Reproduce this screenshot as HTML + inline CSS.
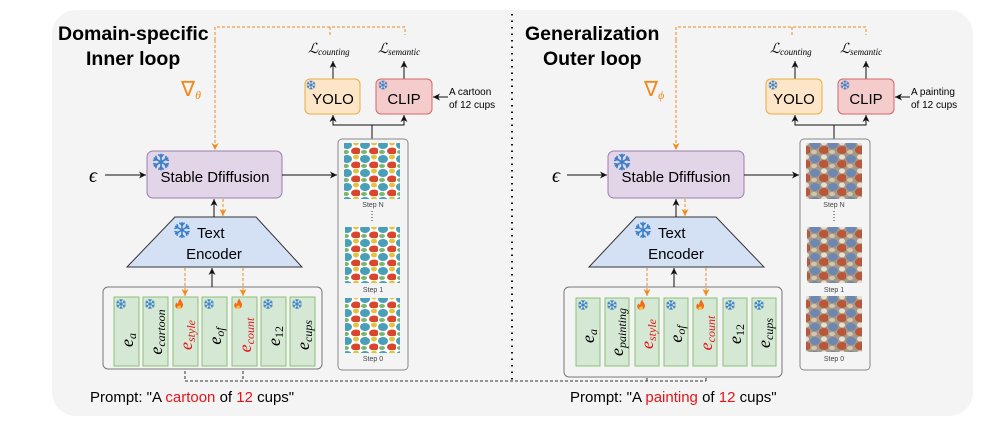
<!DOCTYPE html>
<html><head><meta charset="utf-8"><style>
html,body{margin:0;padding:0;background:#fff;}
svg{display:block;font-family:"Liberation Sans",sans-serif;}
.m{font-family:"Liberation Serif",serif;font-style:italic;}
</style></head><body>
<svg width="996" height="428" viewBox="0 0 996 428" xmlns="http://www.w3.org/2000/svg">
<defs>
<marker id="ab" markerWidth="8" markerHeight="8" refX="7" refY="4" orient="auto" markerUnits="userSpaceOnUse"><path d="M0,0.5 L7,4 L0,7.5 L2,4z" fill="#111"/></marker>
<marker id="ao" markerWidth="8" markerHeight="8" refX="7" refY="4" orient="auto" markerUnits="userSpaceOnUse"><path d="M0,0.5 L7,4 L0,7.5 L2,4z" fill="#f08a1c"/></marker>
<g id="arm"><line x1="0" y1="0" x2="0" y2="-7"/><line x1="0" y1="-4.5" x2="-2" y2="-6.5"/><line x1="0" y1="-4.5" x2="2" y2="-6.5"/></g>
<g id="flake" stroke="#3a7fc8" stroke-width="1.5" stroke-linecap="round" fill="none">
<use href="#arm"/><use href="#arm" transform="rotate(60)"/><use href="#arm" transform="rotate(120)"/><use href="#arm" transform="rotate(180)"/><use href="#arm" transform="rotate(240)"/><use href="#arm" transform="rotate(300)"/>
</g>
<g id="fire"><path d="M0,6 C-5,6 -6,1 -3,-2 C-2,0 -1,0 -1,-1 C-1,-4 1,-6 2,-7 C2,-4 5,-2 5,1 C5,4 3,6 0,6z" fill="#f26b1d"/><path d="M0,6 C-2,6 -3,4 -1,2 C0,3 1,2 1,1 C3,3 3,6 0,6z" fill="#ffc53a"/></g>
<pattern id="cart" width="18" height="14" patternUnits="userSpaceOnUse">
<rect width="18" height="14" fill="#fff"/>
<ellipse cx="5" cy="5" rx="5" ry="4" fill="#4a9fb8"/><ellipse cx="14" cy="11" rx="5" ry="3.5" fill="#d9462f"/><ellipse cx="14" cy="3" rx="3" ry="2.5" fill="#e6c23a"/><ellipse cx="4" cy="12" rx="3" ry="2" fill="#7db56a"/>
</pattern>
<pattern id="paint" width="18" height="14" patternUnits="userSpaceOnUse">
<rect width="18" height="14" fill="#a59a8a"/>
<ellipse cx="5" cy="5" rx="5" ry="4" fill="#6d87b0"/><ellipse cx="14" cy="10" rx="5" ry="4" fill="#b9573a"/><ellipse cx="14" cy="3" rx="3" ry="2.5" fill="#e6e0d2"/><ellipse cx="4" cy="12" rx="3" ry="2" fill="#d8c6a6"/>
</pattern>
</defs>

<rect x="52" y="10" width="921" height="406" rx="24" fill="#f4f4f4"/>
<line x1="512" y1="14" x2="512" y2="380" stroke="#111" stroke-width="2" stroke-dasharray="1.5 5"/>

<polyline points="185,366 185,381 706,381" fill="none" stroke="#333" stroke-width="1" stroke-dasharray="3 2"/>
<line x1="243" y1="366" x2="243" y2="381" stroke="#333" stroke-dasharray="3 2"/>
<line x1="647" y1="381" x2="647" y2="367" stroke="#333" stroke-dasharray="3 2" marker-end="url(#ab)"/>
<line x1="706" y1="381" x2="706" y2="367" stroke="#333" stroke-dasharray="3 2" marker-end="url(#ab)"/>

<!-- ===== LEFT ===== -->
<text x="58" y="40" font-size="19.5" font-weight="bold">Domain-specific</text>
<text x="86" y="65" font-size="19.5" font-weight="bold">Inner loop</text>
<text x="181" y="96" font-size="21" fill="#f08a1c">∇<tspan class="m" font-size="12" dy="3">θ</tspan></text>

<polyline points="215,40 215,27 405,27 405,35" fill="none" stroke="#f08a1c" stroke-dasharray="3 2"/>
<line x1="215" y1="40" x2="215" y2="150" stroke="#f08a1c" stroke-dasharray="3 2" marker-end="url(#ao)"/>
<line x1="330" y1="27" x2="330" y2="35" stroke="#f08a1c" stroke-dasharray="3 2"/>

<text x="308" y="53" class="m" font-size="14">ℒ<tspan font-size="9" dy="2">counting</tspan></text>
<text x="378" y="53" class="m" font-size="14">ℒ<tspan font-size="9" dy="2">semantic</tspan></text>
<line x1="333" y1="79" x2="333" y2="61" stroke="#111" marker-end="url(#ab)"/>
<line x1="404" y1="79" x2="404" y2="61" stroke="#111" marker-end="url(#ab)"/>

<rect x="305" y="79" width="55" height="35" rx="5" fill="#fde6c8" stroke="#e6ad45"/>
<text x="333" y="104" font-size="15" text-anchor="middle">YOLO</text>
<use href="#flake" transform="translate(311,85) scale(0.6)"/>
<rect x="376" y="79" width="56" height="35" rx="5" fill="#f5cccc" stroke="#cf6767"/>
<text x="404" y="104" font-size="15" text-anchor="middle">CLIP</text>
<use href="#flake" transform="translate(383,85) scale(0.6)"/>
<text x="449" y="95" font-size="10">A cartoon</text>
<text x="449" y="108" font-size="10">of 12 cups</text>
<line x1="448" y1="97" x2="433" y2="97" stroke="#111" marker-end="url(#ab)"/>

<polyline points="372,139 372,125 333,125 333,115" fill="none" stroke="#111" marker-end="url(#ab)"/>
<polyline points="372,125 404,125 404,115" fill="none" stroke="#111" marker-end="url(#ab)"/>

<rect x="338" y="139" width="70" height="231" rx="4" fill="#f4f4f4" stroke="#888"/>
<rect x="344" y="143" width="56" height="56" fill="url(#cart)"/>
<text x="373" y="207" font-size="7" fill="#444" text-anchor="middle">Step N</text>
<line x1="372" y1="211" x2="372" y2="223" stroke="#333" stroke-dasharray="1 2"/>
<rect x="345" y="227" width="55" height="56" fill="url(#cart)"/>
<text x="373" y="292" font-size="7" fill="#444" text-anchor="middle">Step 1</text>
<rect x="345" y="298" width="55" height="55" fill="url(#cart)"/>
<text x="373" y="361" font-size="7" fill="#444" text-anchor="middle">Step 0</text>

<rect x="147" y="151" width="135" height="47" rx="6" fill="#e1d5e7" stroke="#9c7bb0"/>
<text x="215" y="182" font-size="15" text-anchor="middle">Stable Dfiffusion</text>
<use href="#flake" transform="translate(161,162) scale(1.1)"/>
<text x="89" y="182" class="m" font-size="20">ϵ</text>
<line x1="105" y1="175" x2="146" y2="175" stroke="#111" marker-end="url(#ab)"/>
<line x1="282" y1="175" x2="337" y2="175" stroke="#111" marker-end="url(#ab)"/>

<polygon points="175,217 256,217 302,267 127,267" fill="#d4e1f5" stroke="#333"/>
<text x="197" y="238" font-size="15">Text</text>
<text x="214" y="259" font-size="15" text-anchor="middle">Encoder</text>
<use href="#flake" transform="translate(182,230) scale(1.05)"/>
<line x1="214" y1="217" x2="214" y2="199" stroke="#111" marker-end="url(#ab)"/>
<line x1="223" y1="199" x2="223" y2="216" stroke="#f08a1c" stroke-dasharray="3 2" marker-end="url(#ao)"/>

<rect x="103" y="287" width="219" height="82" rx="5" fill="#f4f4f4" stroke="#777"/>
<line x1="212" y1="287" x2="212" y2="268" stroke="#111" marker-end="url(#ab)"/>
<line x1="185" y1="268" x2="185" y2="296" stroke="#f08a1c" stroke-dasharray="3 2" marker-end="url(#ao)"/>
<line x1="243" y1="268" x2="243" y2="296" stroke="#f08a1c" stroke-dasharray="3 2" marker-end="url(#ao)"/>
<g fill="#d5e8d4" stroke="#8cbf78">
<rect x="114" y="297" width="25" height="69"/><rect x="143" y="297" width="25" height="69"/><rect x="173" y="297" width="25" height="69"/><rect x="202" y="297" width="25" height="69"/><rect x="232" y="297" width="25" height="69"/><rect x="261" y="297" width="25" height="69"/><rect x="290" y="297" width="25" height="69"/>
</g>
<use href="#flake" transform="translate(121,304) scale(0.65)"/>
<use href="#flake" transform="translate(150,304) scale(0.65)"/>
<use href="#fire" transform="translate(179,304) scale(0.8)"/>
<use href="#flake" transform="translate(209,304) scale(0.65)"/>
<use href="#fire" transform="translate(238,304) scale(0.8)"/>
<use href="#flake" transform="translate(268,304) scale(0.65)"/>
<use href="#flake" transform="translate(297,304) scale(0.65)"/>
<g class="m" font-size="18">
<text transform="translate(133,340) rotate(-90)" text-anchor="middle">e<tspan font-size="12" dy="3">a</tspan></text>
<text transform="translate(162,332) rotate(-90)" text-anchor="middle">e<tspan font-size="12" dy="3">cartoon</tspan></text>
<text transform="translate(192,335) rotate(-90)" text-anchor="middle" fill="#e8141a">e<tspan font-size="12" dy="3">style</tspan></text>
<text transform="translate(221,336) rotate(-90)" text-anchor="middle">e<tspan font-size="12" dy="3">of</tspan></text>
<text transform="translate(251,335) rotate(-90)" text-anchor="middle" fill="#e8141a">e<tspan font-size="12" dy="3">count</tspan></text>
<text transform="translate(280,336) rotate(-90)" text-anchor="middle">e<tspan font-size="12" dy="3" font-style="normal">12</tspan></text>
<text transform="translate(309,335) rotate(-90)" text-anchor="middle">e<tspan font-size="12" dy="3">cups</tspan></text>
</g>
<text x="90" y="402" font-size="15">Prompt: "A <tspan fill="#e8141a">cartoon</tspan> of <tspan fill="#e8141a">12</tspan> cups"</text>

<!-- ===== RIGHT ===== -->
<text x="525" y="40" font-size="19.5" font-weight="bold">Generalization</text>
<text x="543" y="65" font-size="19.5" font-weight="bold">Outer loop</text>
<text x="644" y="96" font-size="21" fill="#f08a1c">∇<tspan class="m" font-size="12" dy="3">ϕ</tspan></text>

<polyline points="676,40 676,27 866,27 866,35" fill="none" stroke="#f08a1c" stroke-dasharray="3 2"/>
<line x1="676" y1="40" x2="676" y2="150" stroke="#f08a1c" stroke-dasharray="3 2" marker-end="url(#ao)"/>
<line x1="792" y1="27" x2="792" y2="35" stroke="#f08a1c" stroke-dasharray="3 2"/>

<text x="770" y="53" class="m" font-size="14">ℒ<tspan font-size="9" dy="2">counting</tspan></text>
<text x="840" y="53" class="m" font-size="14">ℒ<tspan font-size="9" dy="2">semantic</tspan></text>
<line x1="795" y1="79" x2="795" y2="61" stroke="#111" marker-end="url(#ab)"/>
<line x1="866" y1="79" x2="866" y2="61" stroke="#111" marker-end="url(#ab)"/>

<rect x="766" y="79" width="56" height="35" rx="5" fill="#fde6c8" stroke="#e6ad45"/>
<text x="794" y="104" font-size="15" text-anchor="middle">YOLO</text>
<use href="#flake" transform="translate(773,85) scale(0.6)"/>
<rect x="838" y="79" width="56" height="35" rx="5" fill="#f5cccc" stroke="#cf6767"/>
<text x="866" y="104" font-size="15" text-anchor="middle">CLIP</text>
<use href="#flake" transform="translate(845,85) scale(0.6)"/>
<text x="911" y="95" font-size="10">A painting</text>
<text x="911" y="108" font-size="10">of 12 cups</text>
<line x1="910" y1="97" x2="895" y2="97" stroke="#111" marker-end="url(#ab)"/>

<polyline points="834,139 834,125 795,125 795,115" fill="none" stroke="#111" marker-end="url(#ab)"/>
<polyline points="834,125 866,125 866,115" fill="none" stroke="#111" marker-end="url(#ab)"/>

<rect x="800" y="139" width="70" height="231" rx="4" fill="#f4f4f4" stroke="#888"/>
<rect x="806" y="143" width="56" height="56" fill="url(#paint)"/>
<text x="834" y="207" font-size="7" fill="#444" text-anchor="middle">Step N</text>
<line x1="834" y1="211" x2="834" y2="223" stroke="#333" stroke-dasharray="1 2"/>
<rect x="807" y="227" width="55" height="56" fill="url(#paint)"/>
<text x="834" y="292" font-size="7" fill="#444" text-anchor="middle">Step 1</text>
<rect x="806" y="296" width="56" height="56" fill="url(#paint)"/>
<text x="834" y="361" font-size="7" fill="#444" text-anchor="middle">Step 0</text>

<rect x="608" y="151" width="136" height="47" rx="6" fill="#e1d5e7" stroke="#9c7bb0"/>
<text x="676" y="182" font-size="15" text-anchor="middle">Stable Dfiffusion</text>
<use href="#flake" transform="translate(622,162) scale(1.1)"/>
<text x="552" y="182" class="m" font-size="20">ϵ</text>
<line x1="567" y1="175" x2="607" y2="175" stroke="#111" marker-end="url(#ab)"/>
<line x1="744" y1="175" x2="799" y2="175" stroke="#111" marker-end="url(#ab)"/>

<polygon points="636,217 716,217 764,267 589,267" fill="#d4e1f5" stroke="#333"/>
<text x="658" y="238" font-size="15">Text</text>
<text x="676" y="259" font-size="15" text-anchor="middle">Encoder</text>
<use href="#flake" transform="translate(643,230) scale(1.05)"/>
<line x1="676" y1="217" x2="676" y2="199" stroke="#111" marker-end="url(#ab)"/>
<line x1="685" y1="199" x2="685" y2="216" stroke="#f08a1c" stroke-dasharray="3 2" marker-end="url(#ao)"/>

<rect x="564" y="287" width="218" height="90" rx="5" fill="#f4f4f4" stroke="#777"/>
<line x1="674" y1="287" x2="674" y2="268" stroke="#111" marker-end="url(#ab)"/>
<line x1="647" y1="268" x2="647" y2="296" stroke="#f08a1c" stroke-dasharray="3 2" marker-end="url(#ao)"/>
<line x1="706" y1="268" x2="706" y2="296" stroke="#f08a1c" stroke-dasharray="3 2" marker-end="url(#ao)"/>
<g fill="#d5e8d4" stroke="#8cbf78">
<rect x="576" y="298" width="24" height="68"/><rect x="605" y="298" width="24" height="68"/><rect x="635" y="298" width="24" height="68"/><rect x="664" y="298" width="24" height="68"/><rect x="693" y="298" width="24" height="68"/><rect x="723" y="298" width="24" height="68"/><rect x="752" y="298" width="24" height="68"/>
</g>
<use href="#flake" transform="translate(583,305) scale(0.65)"/>
<use href="#flake" transform="translate(612,305) scale(0.65)"/>
<use href="#fire" transform="translate(641,305) scale(0.8)"/>
<use href="#flake" transform="translate(671,305) scale(0.65)"/>
<use href="#fire" transform="translate(700,305) scale(0.8)"/>
<use href="#flake" transform="translate(730,305) scale(0.65)"/>
<use href="#flake" transform="translate(759,305) scale(0.65)"/>
<g class="m" font-size="18">
<text transform="translate(594,336) rotate(-90)" text-anchor="middle">e<tspan font-size="12" dy="3">a</tspan></text>
<text transform="translate(623,332) rotate(-90)" text-anchor="middle">e<tspan font-size="12" dy="3">painting</tspan></text>
<text transform="translate(653,334) rotate(-90)" text-anchor="middle" fill="#e8141a">e<tspan font-size="12" dy="3">style</tspan></text>
<text transform="translate(682,334) rotate(-90)" text-anchor="middle">e<tspan font-size="12" dy="3">of</tspan></text>
<text transform="translate(712,333) rotate(-90)" text-anchor="middle" fill="#e8141a">e<tspan font-size="12" dy="3">count</tspan></text>
<text transform="translate(741,334) rotate(-90)" text-anchor="middle">e<tspan font-size="12" dy="3" font-style="normal">12</tspan></text>
<text transform="translate(770,333) rotate(-90)" text-anchor="middle">e<tspan font-size="12" dy="3">cups</tspan></text>
</g>
<text x="570" y="402" font-size="15">Prompt: "A <tspan fill="#e8141a">painting</tspan> of <tspan fill="#e8141a">12</tspan> cups"</text>
</svg>
</body></html>
